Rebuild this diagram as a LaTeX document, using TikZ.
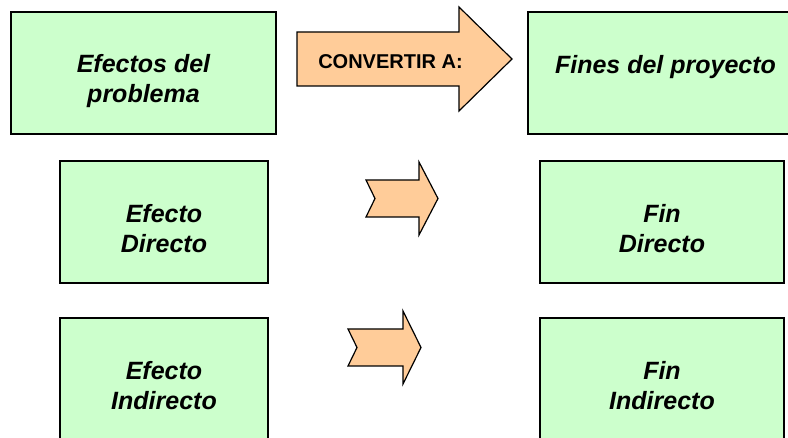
\documentclass[tikz,border=0pt]{standalone}
\usepackage{fontspec}
\setmainfont{Liberation Sans}
\usetikzlibrary{calc}
\definecolor{boxgreen}{HTML}{CCFFCC}
\definecolor{arrowpeach}{HTML}{FFCC99}
\tikzset{
  greenbox/.style={draw=black, line width=1.3pt, fill=boxgreen, rectangle, inner sep=0pt},
  boxtext/.style={inner sep=0pt, anchor=base, font=\fontsize{25}{30}\selectfont\bfseries\itshape},
  arrowshape/.style={draw=black, line width=1.2pt, fill=arrowpeach, line join=miter},
  convtext/.style={inner sep=0pt, anchor=base, font=\fontsize{20}{24}\selectfont\bfseries}
}
\newcommand{\twolines}[2]{\begin{tabular}[t]{@{}c@{}}#1\\#2\end{tabular}}
\begin{document}
\begin{tikzpicture}[x=1pt,y=-1pt]
\useasboundingbox (0,0) rectangle (788,438);
\clip (0,0) rectangle (788,438);
% boxes
\node[greenbox, minimum width=265pt, minimum height=122pt] (b1) at (143.5,73) {};
\node[greenbox, minimum width=208pt, minimum height=122pt] (b2) at (164,222) {};
\node[greenbox, minimum width=208pt, minimum height=122pt] (b3) at (164,379) {};
\node[greenbox, minimum width=275pt, minimum height=122pt] (b4) at (665.5,73) {};
\node[greenbox, minimum width=244pt, minimum height=122pt] (b5) at (662,222) {};
\node[greenbox, minimum width=244pt, minimum height=122pt] (b6) at (662,379) {};
% texts
\node[boxtext] (t1) at ($(b1.center)+(0,0)$) {\twolines{Efectos del}{problema}};
\node[boxtext] (t2) at ($(b2.center)+(0,1)$) {\twolines{Efecto}{Directo}};
\node[boxtext] (t3) at ($(b3.center)+(0,1)$) {\twolines{Efecto}{Indirecto}};
\node[boxtext] (t4) at ($(b4.center)+(0,1)$) {Fines del proyecto};
\node[boxtext] (t5) at ($(b5.center)+(0,1)$) {\twolines{Fin}{Directo}};
\node[boxtext] (t6) at ($(b6.center)+(0,1)$) {\twolines{Fin}{Indirecto}};
% big arrow
\draw[arrowshape] (297,32) -- (459,32) -- (459,7) -- (512,59) -- (459,111) -- (459,86) -- (297,86) -- cycle;
\node[convtext] (conv) at (390.5,68.3) {CONVERTIR A:};
% small arrows
\draw[arrowshape] (366,180) -- (419,180) -- (419,162) -- (438,198.5) -- (419,235) -- (419,217) -- (366,217) -- (375,198.5) -- cycle;
\draw[arrowshape] (348,329) -- (403,329) -- (403,311) -- (421,347.5) -- (403,384) -- (403,366) -- (348,366) -- (357,347.5) -- cycle;
\end{tikzpicture}
\end{document}
